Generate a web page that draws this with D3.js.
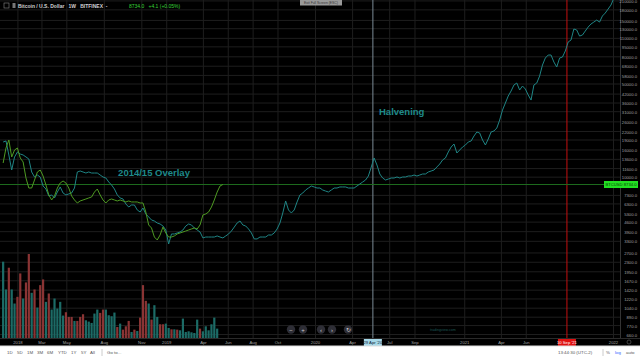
<!DOCTYPE html>
<html>
<head>
<meta charset="utf-8">
<script src="https://cdn.jsdelivr.net/npm/d3@7"></script>
<style>
  html, body { margin: 0; padding: 0; background: #000; }
  svg { display: block; }
  text { font-family: "Liberation Sans", Arial, sans-serif; }
</style>
</head>
<body>
<svg id="chart" width="640" height="360"></svg>
<script>
// ---------------- DATA ----------------
const seriesStart = "2017-11-27";      // first weekly bar
const lastPrice = 8734.0;
const priceChange = "+4.1 (+0.05%)";

// actual weekly close (green line)
const actualClose = [12660,16410,18840,14050,15850,16410,13810,12890,9770,8220,
  8220,9440,10840,11220,10110,8660,7290,6685,7165,8220,
  8965,9280,8965,8220,7165,6685,6345,6570,6685,6800,
  6920,7040,7670,8080,7290,6685,6345,6685,6800,6685,
  6570,6685,6570,6460,6570,6460,6460,6460,6345,6345,
  5430,4340,4120,3525,3350,3650,4190,3780,3525,3525,
  3590,3715,3780,3845,3910,3980,4050,4120,4050,4340,
  5160,5250,5430,5920,6685,7670,8510,8734];

// 2014/15 overlay projected (teal line)
const overlayClose = [18200,18520,14540,11220,14050,15310,14790,14540,14050,13570,
  10840,9940,10290,9940,8510,8080,7165,7290,6920,7670,
  8370,7540,7290,7420,7540,8220,10840,11030,10840,10650,
  10840,10650,10650,10650,10290,9940,9770,9120,8660,8080,
  7290,6920,6800,6240,5920,6130,6130,5625,5430,5820,
  5250,4985,4730,4650,4490,4415,4265,3980,3125,3715,
  3715,3780,3845,3980,4265,4415,4340,4120,3980,3845,
  3470,3525,3525,3525,3525,3590,3525,3470,3590,3715,
  3910,4190,4490,4650,4340,4265,4050,3780,3410,3410,
  3525,3525,3525,3650,3650,3780,4050,4490,5340,6570,
  5625,5340,5625,6460,7290,7540,7940,8220,8510,8370,
  8220,8220,7940,7800,7670,7940,8220,8220,8370,8370,
  8370,8220,8220,8220,8510,8810,9120,9440,10110,11820,
  13810,12230,10470,9770,9440,9600,9770,9770,9940,9770,
  9940,9940,10110,10110,10290,10110,10290,10470,10470,10840,
  11030,11220,11820,12440,13340,13810,15310,16690,17580,15050,
  15850,16690,17280,18200,18520,20190,21630,21260,18840,17280,
  19170,21630,22010,23180,26600,31620,35690,40280,43910,48700,
  50410,44670,47870,45450,40980,37570,48700,50410,56890,68800,
  77630,81770,81770,72460,66470,77630,78990,87670,102400,106000,
  128200,126000,113500,115500,123800,132600,139700,144500,149600,144500,
  160400,168900,181000,193900,218000];

// weekly volume and candle direction (u = up, d = down)
const volume = [228,145,210,145,103,123,193,118,166,251,
  135,145,91,158,175,108,133,85,118,88,
  108,67,77,63,63,51,51,63,71,53,
  49,45,73,85,75,85,85,68,65,76,
  33,43,25,35,51,18,25,21,61,158,
  111,103,55,98,63,41,41,43,30,26,
  26,25,23,58,18,20,17,15,55,28,
  20,35,23,41,61,28];
const direction = ["u","u","d","u","u","d","d","u","d","d",
  "u","d","u","d","d","u","d","u","u","u",
  "u","u","d","d","d","u","d","d","d","u",
  "u","u","u","u","d","d","u","u","u","u",
  "d","u","d","d","d","u","d","u","d","d",
  "d","u","d","u","u","d","d","u","u","d",
  "u","d","u","u","u","u","u","u","u","d",
  "u","u","u","u","u","u"];

const priceTicks = [210000,180000,150000,130000,110000,95000,80000,68000,58000,50000,
  42000,36000,31000,26000,22000,19000,16000,13600,11600,10000,7300,6300,5300,
  4600,3900,3300,2700,2300,1950,1670,1420,1220,1040,890,770,660];

const timeTickDates = ["2018-01-01","2018-03-01","2018-05-01","2018-08-01","2018-11-01",
  "2019-01-01","2019-04-01","2019-06-01","2019-08-01","2019-10-01",
  "2020-01-01","2020-04-01","2020-07-01","2020-09-01",
  "2021-01-01","2021-04-01","2021-06-01","2022-01-01"];
const timeTickLabels = ["2018","Mar","May","Aug","Nov","2019","Apr","Jun","Aug","Oct",
  "2020","Apr","Jul","Sep","2021","Apr","Jun","2022"];

const markerDates = ["2020-05-22","2021-09-10"];
const markerLabels = ["29 Apr '20","10 Sep '21"];

const annotations = [
  {text: "2014/15 Overlay", date: "2018-09-05", value: 10100},
  {text: "Halvening", date: "2020-06-06", value: 29000}
];

const periodButtons = ["1D","5D","1M","3M","6M","YTD","1Y","5Y","All"];

// ---------------- CHART ----------------
const W = 640, H = 360;
const plotRight = 620, plotBottom = 338;
const svg = d3.select("#chart");
const parse = d3.timeParse("%Y-%m-%d");
const start = parse(seriesStart);
const weekDate = i => d3.timeDay.offset(start, 7 * i);

const x = d3.scaleTime()
  .domain([parse("2020-01-01"), parse("2022-01-01")])
  .range([315, 613]);
const y = d3.scaleLog().domain([lastPrice, 660]).range([184.5, 334]);
const yVol = d3.scaleLinear().domain([0, 251]).range([plotBottom, 254]);

svg.append("rect").attr("width", W).attr("height", H).attr("fill", "#000");

svg.append("defs").append("clipPath").attr("id", "plotclip")
  .append("rect").attr("x", 0).attr("y", 0).attr("width", plotRight).attr("height", plotBottom);

// grid
const gridX = svg.append("g").attr("transform", `translate(0,${plotBottom})`)
  .call(d3.axisBottom(x).tickValues(timeTickDates.map(parse)).tickSize(-plotBottom).tickFormat(""));
gridX.select(".domain").remove();
gridX.selectAll("line").attr("stroke", "#1e1e1e").attr("stroke-width", 1);

const gridY = svg.append("g").attr("transform", `translate(${plotRight},0)`)
  .call(d3.axisLeft(y).tickValues(priceTicks).tickSize(plotRight).tickFormat(""));
gridY.select(".domain").remove();
gridY.selectAll("line").attr("stroke", "#1e1e1e").attr("stroke-width", 1);

const plot = svg.append("g").attr("clip-path", "url(#plotclip)");

// volume
const barW = 2.2;
plot.append("g").selectAll("rect").data(volume).join("rect")
  .attr("x", (d, i) => x(weekDate(i)) - barW / 2)
  .attr("y", d => yVol(d))
  .attr("width", barW)
  .attr("height", d => plotBottom - yVol(d))
  .attr("fill", (d, i) => direction[i] === "u" ? "#1c6b66" : "#8a3434");

// marker lines
const markerColors = ["#7b8a96", "#c21010"];
markerDates.forEach((d, i) => {
  plot.append("line")
    .attr("x1", x(parse(d))).attr("x2", x(parse(d)))
    .attr("y1", 0).attr("y2", plotBottom)
    .attr("stroke", markerColors[i]).attr("stroke-width", 1);
});

// last price line
plot.append("line").attr("x1", 0).attr("x2", plotRight)
  .attr("y1", y(lastPrice)).attr("y2", y(lastPrice))
  .attr("stroke", "#1d6a1d").attr("stroke-width", 1);

const line = d3.line().x(d => x(d[0])).y(d => y(d[1]));
plot.append("path")
  .datum(overlayClose.map((v, i) => [weekDate(i), v]))
  .attr("d", line).attr("fill", "none")
  .attr("stroke", "#1f8585").attr("stroke-width", 1);
plot.append("path")
  .datum(actualClose.map((v, i) => [weekDate(i), v]))
  .attr("d", line).attr("fill", "none")
  .attr("stroke", "#4e9a22").attr("stroke-width", 1);

// annotations
annotations.forEach(a => {
  svg.append("text").attr("x", x(parse(a.date))).attr("y", y(a.value))
    .attr("fill", "#1f8a8a").attr("font-weight", "bold").attr("font-size", "9.5px")
    .text(a.text);
});

// right price axis
svg.append("line").attr("x1", plotRight + 0.5).attr("x2", plotRight + 0.5)
  .attr("y1", 0).attr("y2", plotBottom).attr("stroke", "#333");
const yAxis = svg.append("g").attr("transform", `translate(${plotRight},0)`)
  .call(d3.axisRight(y).tickValues(priceTicks).tickSize(0).tickPadding(17)
    .tickFormat(d => d3.format(".1f")(d)));
yAxis.select(".domain").remove();
yAxis.selectAll("text").attr("fill", "#a0a0a0").attr("font-size", "4.2px")
  .attr("text-anchor", "end").attr("dy", "0.5em")
  .attr("font-family", "Liberation Sans, Arial, sans-serif");

// last price label
const lpY = y(lastPrice);
svg.append("rect").attr("x", 604).attr("y", lpY - 3.5).attr("width", 34).attr("height", 7)
  .attr("fill", "#22e022");
svg.append("text").attr("x", 621).attr("y", lpY + 1.5).attr("text-anchor", "middle")
  .attr("font-size", "4.2px").attr("fill", "#0b3d0b").text("BTCUSD  " + d3.format(".1f")(lastPrice));

// time axis
svg.append("line").attr("x1", 0).attr("x2", W).attr("y1", plotBottom + 0.5).attr("y2", plotBottom + 0.5)
  .attr("stroke", "#2a2a2a");
const xAxis = svg.append("g").attr("transform", `translate(0,${plotBottom})`)
  .call(d3.axisBottom(x).tickValues(timeTickDates.map(parse)).tickSize(0).tickPadding(3)
    .tickFormat((d, i) => timeTickLabels[i]));
xAxis.select(".domain").remove();
xAxis.selectAll("text").attr("fill", "#a0a0a0").attr("font-size", "4.2px")
  .attr("font-family", "Liberation Sans, Arial, sans-serif");

// marker date boxes
const boxFill = ["#a6d8e8", "#e01010"], boxText = ["#123", "#fff"];
markerDates.forEach((d, i) => {
  const cx = x(parse(d));
  svg.append("rect").attr("x", cx - 9).attr("y", plotBottom + 1).attr("width", 18).attr("height", 7)
    .attr("fill", boxFill[i]);
  svg.append("text").attr("x", cx).attr("y", plotBottom + 6).attr("text-anchor", "middle")
    .attr("font-size", "4.2px").attr("fill", boxText[i]).text(markerLabels[i]);
});
svg.append("circle").attr("cx", 629).attr("cy", 342).attr("r", 2).attr("fill", "none")
  .attr("stroke", "#666").attr("stroke-width", 0.6);

// header
svg.append("rect").attr("x", 4).attr("y", 3).attr("width", 5).attr("height", 5).attr("fill", "none")
  .attr("stroke", "#888").attr("stroke-width", 0.6);
svg.append("rect").attr("x", 12.5).attr("y", 3).attr("width", 3).attr("height", 5).attr("fill", "#777");
svg.append("text").attr("x", 18).attr("y", 7.5).attr("font-size", "5px").attr("fill", "#d0d0d0")
  .attr("font-weight", "bold").attr("xml:space", "preserve")
  .text("Bitcoin / U.S. Dollar   1W   BITFINEX  -");
svg.append("text").attr("x", 129).attr("y", 7.5).attr("font-size", "5px").attr("fill", "#36d636")
  .attr("xml:space", "preserve").text(d3.format(".1f")(lastPrice) + "   " + priceChange);

svg.append("rect").attr("x", 300).attr("y", 0).attr("width", 42).attr("height", 5.5).attr("fill", "#9a9a9a");
svg.append("text").attr("x", 321).attr("y", 4).attr("text-anchor", "middle").attr("font-size", "3.4px")
  .attr("fill", "#333").text("Exit Full Screen (ESC)");

// navigation buttons
const navX = [291, 303, 321, 332, 348], navSym = ["−", "+", "‹", "›", "↻"];
navX.forEach((nx, i) => {
  svg.append("circle").attr("cx", nx).attr("cy", 329.5).attr("r", 4.2).attr("fill", "#2e2e36");
  svg.append("text").attr("x", nx).attr("y", 331.5).attr("text-anchor", "middle")
    .attr("font-size", "6px").attr("fill", "#ccc").text(navSym[i]);
});
svg.append("text").attr("x", 430).attr("y", 331).attr("font-size", "3.6px").attr("fill", "#1c5656")
  .text("tradingview.com");

// bottom toolbar
svg.append("rect").attr("x", 0).attr("y", 346).attr("width", W).attr("height", 14).attr("fill", "#fff");
svg.append("line").attr("x1", 0).attr("x2", W).attr("y1", 346).attr("y2", 346).attr("stroke", "#ddd");
const btnX = [7, 17, 27, 37, 47, 58, 71, 81, 90];
periodButtons.forEach((b, i) => {
  svg.append("text").attr("x", btnX[i]).attr("y", 354).attr("font-size", "4.4px").attr("fill", "#555").text(b);
});
svg.append("line").attr("x1", 102).attr("x2", 102).attr("y1", 349).attr("y2", 356).attr("stroke", "#ccc");
svg.append("text").attr("x", 107).attr("y", 354).attr("font-size", "4.4px").attr("fill", "#555").text("Go to...");
svg.append("text").attr("x", 558).attr("y", 354).attr("font-size", "4.4px").attr("fill", "#555").text("13:44:30 (UTC-2)");
svg.append("line").attr("x1", 603).attr("x2", 603).attr("y1", 349).attr("y2", 356).attr("stroke", "#ccc");
svg.append("text").attr("x", 606).attr("y", 354).attr("font-size", "4.4px").attr("fill", "#555").text("%");
svg.append("text").attr("x", 615).attr("y", 354).attr("font-size", "4.4px").attr("fill", "#2962ff").text("log");
svg.append("text").attr("x", 626).attr("y", 354).attr("font-size", "4.4px").attr("fill", "#555").text("auto");
</script>
</body>
</html>
